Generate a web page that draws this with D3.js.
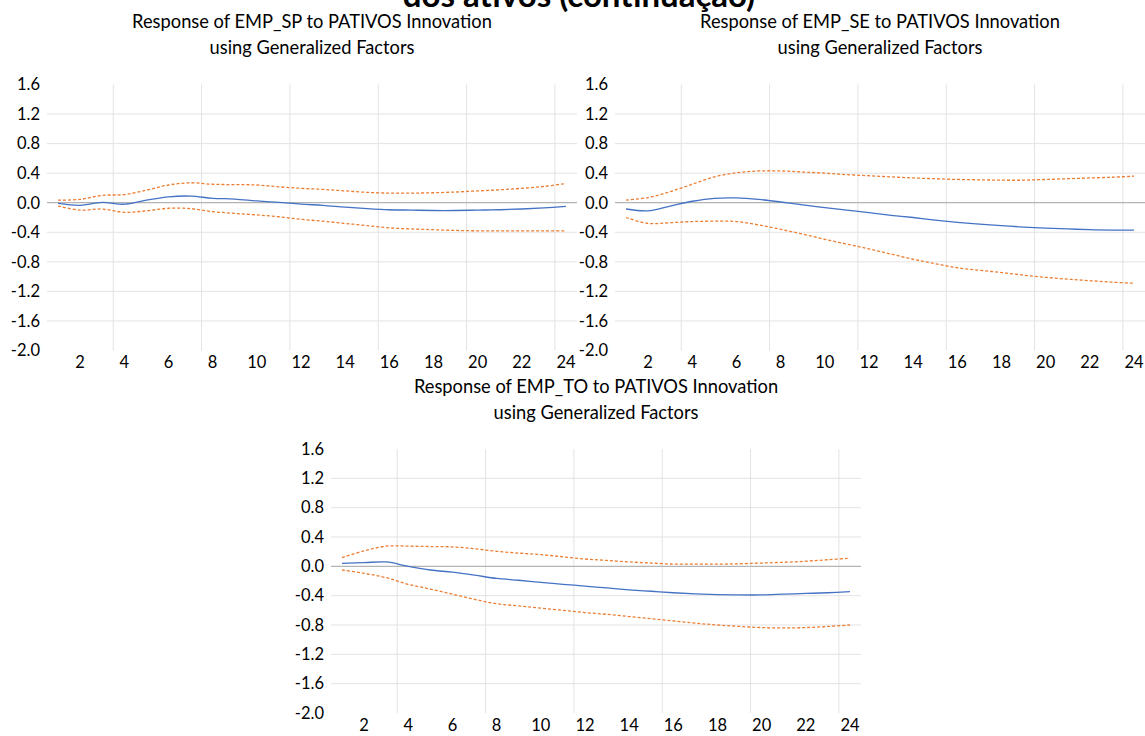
<!DOCTYPE html>
<html>
<head>
<meta charset="utf-8">
<script src="https://cdn.jsdelivr.net/npm/d3@7"></script>
<style>
  body { margin: 0; background: #fff; }
  svg { display: block; font-family: Lato, "Open Sans", sans-serif; }
</style>
</head>
<body>
<svg id="chart" width="1145" height="736"></svg>
<script>
// periods 1..24
const periods = d3.range(1, 25);
const xTickLabels = [2, 4, 6, 8, 10, 12, 14, 16, 18, 20, 22, 24];
const yTickLabels = [1.6, 1.2, 0.8, 0.4, 0.0, -0.4, -0.8, -1.2, -1.6, -2.0];
const gridAfter = [3, 7, 11, 15, 19, 23];

// EMP_SP
const spResp  = [-0.01, -0.035, 0.005, -0.02, 0.035, 0.08, 0.09, 0.06, 0.05, 0.025, 0.005, -0.02,
                 -0.035, -0.06, -0.08, -0.095, -0.1, -0.105, -0.105, -0.1, -0.095, -0.085, -0.07, -0.05];
const spUpper = [0.035, 0.045, 0.10, 0.11, 0.17, 0.24, 0.27, 0.25, 0.245, 0.24, 0.215, 0.195,
                 0.18, 0.16, 0.14, 0.13, 0.13, 0.135, 0.145, 0.16, 0.175, 0.195, 0.22, 0.26];
const spLower = [-0.045, -0.10, -0.085, -0.13, -0.11, -0.075, -0.08, -0.12, -0.145, -0.165, -0.19, -0.225,
                 -0.25, -0.28, -0.31, -0.34, -0.355, -0.365, -0.375, -0.38, -0.38, -0.38, -0.38, -0.38];

// EMP_SE
const seResp  = [-0.085, -0.11, -0.045, 0.02, 0.06, 0.065, 0.045, 0.01, -0.03, -0.065, -0.10, -0.135,
                 -0.17, -0.2, -0.235, -0.265, -0.29, -0.31, -0.33, -0.345, -0.355, -0.365, -0.37, -0.37];
const seUpper = [0.035, 0.07, 0.15, 0.25, 0.35, 0.405, 0.43, 0.43, 0.415, 0.40, 0.38, 0.365,
                 0.35, 0.335, 0.325, 0.315, 0.31, 0.305, 0.305, 0.315, 0.325, 0.335, 0.345, 0.36];
const seLower = [-0.2, -0.28, -0.27, -0.255, -0.25, -0.255, -0.30, -0.36, -0.425, -0.495, -0.56, -0.625,
                 -0.695, -0.765, -0.825, -0.88, -0.915, -0.945, -0.98, -1.01, -1.035, -1.055, -1.075, -1.09];

// EMP_TO
const toResp  = [0.04, 0.05, 0.06, 0.0, -0.05, -0.08, -0.12, -0.165, -0.19, -0.22, -0.245, -0.27,
                 -0.295, -0.32, -0.34, -0.36, -0.375, -0.385, -0.39, -0.39, -0.38, -0.37, -0.36, -0.345];
const toUpper = [0.12, 0.21, 0.275, 0.275, 0.27, 0.265, 0.24, 0.205, 0.18, 0.16, 0.13, 0.10,
                 0.08, 0.06, 0.045, 0.03, 0.03, 0.03, 0.035, 0.045, 0.055, 0.07, 0.09, 0.11];
const toLower = [-0.05, -0.095, -0.155, -0.245, -0.31, -0.38, -0.45, -0.51, -0.54, -0.57, -0.60, -0.63,
                 -0.655, -0.685, -0.715, -0.745, -0.775, -0.80, -0.82, -0.835, -0.84, -0.835, -0.82, -0.80];

const svg = d3.select('#chart');

// page heading, cut off by the top edge as in the source
svg.append('text')
    .attr('x', 579)
    .attr('y', 7)
    .attr('text-anchor', 'middle')
    .attr('font-size', 33)
    .attr('font-weight', 'bold')
    .attr('fill', '#000')
    .text('dos ativos (continuação)');

function drawPanel(p) {
    const g = svg.append('g');

    const x = d3.scaleBand().domain(periods).range([p.left, p.right]);
    const cx = n => x(n) + x.bandwidth() / 2;
    const y = d3.scaleLinear().domain([-2.0, 1.6]).range([p.bottom, p.top]);

    // titles
    g.append('text')
        .attr('x', (p.left + p.right) / 2)
        .attr('y', p.top - 56.5)
        .attr('text-anchor', 'middle')
        .attr('font-size', 18.3)
        .attr('fill', '#000')
        .text(p.title);
    g.append('text')
        .attr('x', (p.left + p.right) / 2)
        .attr('y', p.top - 30.5)
        .attr('text-anchor', 'middle')
        .attr('font-size', 18.3)
        .attr('fill', '#000')
        .text('using Generalized Factors');

    // gridlines
    g.selectAll('.hgrid')
        .data(yTickLabels.filter(v => v !== 0 && v !== 1.6 && v !== -2.0))
        .join('line')
        .attr('x1', p.left).attr('x2', p.right)
        .attr('y1', d => y(d)).attr('y2', d => y(d))
        .attr('stroke', '#e3e3e3').attr('stroke-width', 1);
    g.selectAll('.vgrid')
        .data(gridAfter)
        .join('line')
        .attr('x1', d => x(d) + x.bandwidth()).attr('x2', d => x(d) + x.bandwidth())
        .attr('y1', y(1.6)).attr('y2', y(-2.0))
        .attr('stroke', '#e3e3e3').attr('stroke-width', 1);

    // zero line
    g.append('line')
        .attr('x1', p.left).attr('x2', p.right)
        .attr('y1', y(0)).attr('y2', y(0))
        .attr('stroke', '#b4b4b4').attr('stroke-width', 1.2);

    // axes
    const yAxis = d3.axisLeft(y).tickValues(yTickLabels).tickSize(0).tickPadding(7)
        .tickFormat(d => d.toFixed(1));
    g.append('g')
        .attr('transform', `translate(${p.left},0)`)
        .call(yAxis)
        .call(a => a.select('.domain').remove())
        .selectAll('text')
        .attr('font-size', 16.5)
        .attr('font-family', 'Lato, sans-serif')
        .attr('fill', '#000');

    const xAxis = d3.axisBottom(x).tickValues(xTickLabels).tickSize(0).tickPadding(6);
    g.append('g')
        .attr('transform', `translate(0,${p.bottom})`)
        .call(xAxis)
        .call(a => a.select('.domain').remove())
        .selectAll('text')
        .attr('font-size', 16.5)
        .attr('font-family', 'Lato, sans-serif')
        .attr('fill', '#000');

    const line = d3.line()
        .x((d, i) => cx(periods[i]))
        .y(d => y(d))
        .curve(d3.curveCatmullRom);

    g.append('path').datum(p.upper)
        .attr('d', line).attr('fill', 'none')
        .attr('stroke', '#ED7D31').attr('stroke-width', 1.3)
        .attr('stroke-dasharray', '3,2');
    g.append('path').datum(p.lower)
        .attr('d', line).attr('fill', 'none')
        .attr('stroke', '#ED7D31').attr('stroke-width', 1.3)
        .attr('stroke-dasharray', '3,2');
    g.append('path').datum(p.resp)
        .attr('d', line).attr('fill', 'none')
        .attr('stroke', '#4472C4').attr('stroke-width', 1.3);
}

drawPanel({ title: 'Response of EMP_SP to PATIVOS Innovation', left: 47, right: 577, top: 84.5, bottom: 350.5,
    resp: spResp, upper: spUpper, lower: spLower });
drawPanel({ title: 'Response of EMP_SE to PATIVOS Innovation', left: 615, right: 1145, top: 84.5, bottom: 350.5,
    resp: seResp, upper: seUpper, lower: seLower });
drawPanel({ title: 'Response of EMP_TO to PATIVOS Innovation', left: 331, right: 861, top: 449, bottom: 713,
    resp: toResp, upper: toUpper, lower: toLower });
</script>
</body>
</html>
